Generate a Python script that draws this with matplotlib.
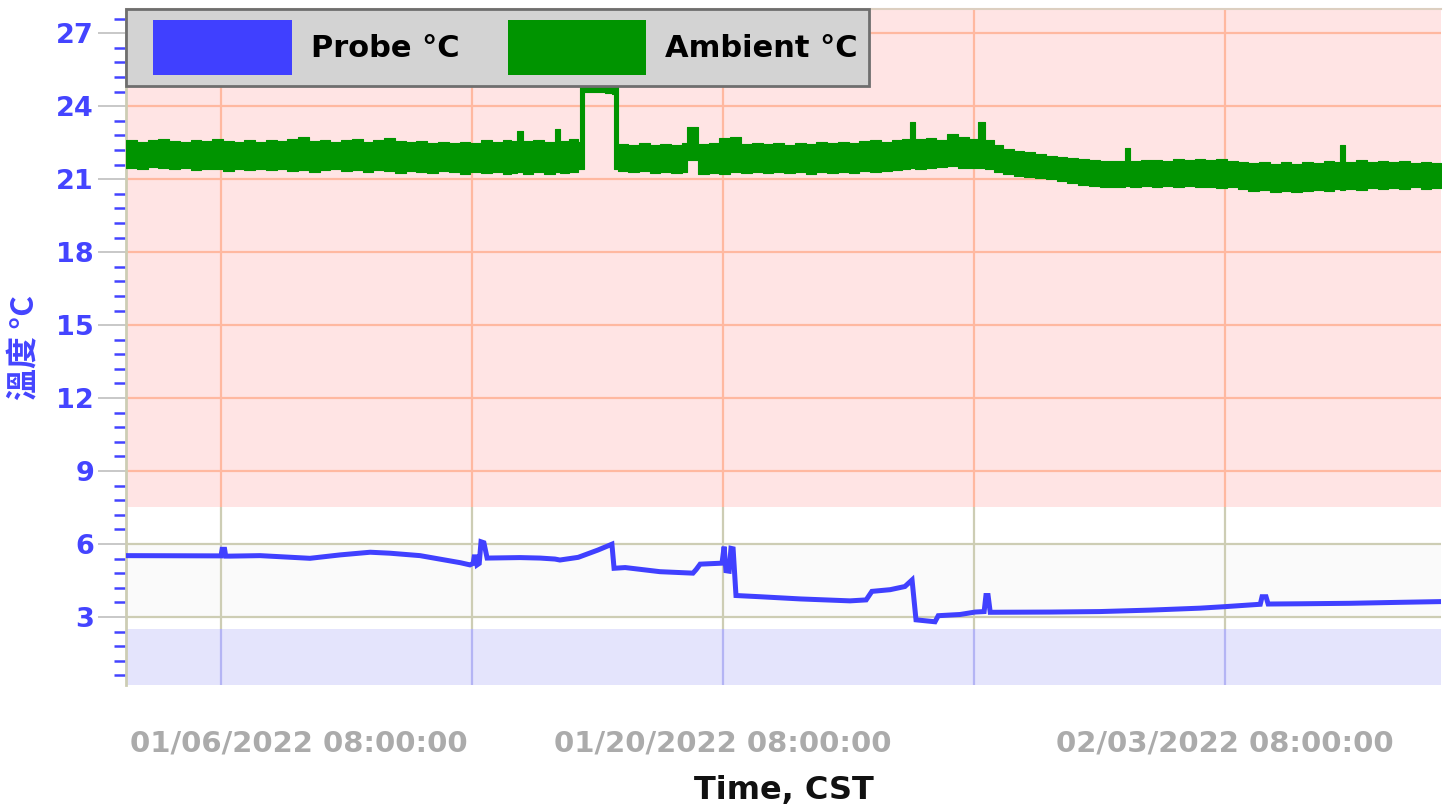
import matplotlib
matplotlib.use("Agg")
import matplotlib.pyplot as plt
from matplotlib.ticker import MultipleLocator, FixedLocator
from matplotlib.patches import Patch, Rectangle
from matplotlib.legend_handler import HandlerPatch
from matplotlib.transforms import ScaledTranslation

# ---------------- data ----------------
# x in days relative to 01/06/2022 08:00:00 CST
probe_days = [-2.65, 0.00, 0.03, 0.10, 0.13, 0.25, 1.09, 2.48, 3.32, 4.16, 4.71, 5.55,
              6.67, 6.94, 7.03, 7.06, 7.11, 7.14, 7.20, 7.25, 7.33, 7.42, 8.34, 8.90,
              9.31, 9.45, 9.96, 10.51, 10.90, 10.96, 11.27, 12.24, 13.16, 13.25, 13.36,
              13.97, 14.03, 14.08, 14.17, 14.22, 14.28, 14.36, 15.03, 16.15, 17.54,
              17.99, 18.15, 18.66, 19.07, 19.27, 19.38, 19.91, 20.00, 20.61, 21.03,
              21.28, 21.33, 21.39, 21.45, 23.12, 24.51, 25.91, 27.30, 27.97, 28.98,
              29.03, 29.14, 29.20, 30.09, 31.49, 32.88, 34.02]
probe_temp = [5.52, 5.51, 5.78, 5.78, 5.50, 5.50, 5.52, 5.41, 5.55, 5.66, 5.62, 5.52,
              5.23, 5.14, 5.20, 5.47, 5.47, 5.14, 5.20, 6.09, 6.05, 5.42, 5.44, 5.42,
              5.38, 5.34, 5.45, 5.75, 5.99, 5.00, 5.03, 4.86, 4.80, 4.95, 5.17,
              5.21, 5.89, 4.90, 4.88, 5.82, 5.80, 3.88, 3.83, 3.74, 3.66,
              3.70, 4.05, 4.12, 4.25, 4.52, 2.88, 2.80, 3.05, 3.10, 3.20,
              3.22, 3.88, 3.88, 3.19, 3.20, 3.22, 3.28, 3.36, 3.42, 3.52,
              3.83, 3.83, 3.53, 3.54, 3.56, 3.60, 3.63]

# ambient reading oscillates rapidly -> drawn as its low/high envelope
amb_days = [-2.65, -2.35, -2.05, -1.75, -1.45, -1.15, -0.85, -0.55, -0.25, 0.05,
            0.35, 0.65, 0.95, 1.25, 1.55, 1.85, 2.15, 2.45, 2.75, 3.05,
            3.35, 3.65, 3.95, 4.25, 4.55, 4.85, 5.15, 5.45, 5.75, 6.05,
            6.35, 6.65, 6.95, 7.25, 7.55, 7.85, 8.10, 8.25, 8.42, 8.70,
            9.00, 9.31, 9.45, 9.70, 9.96,
            10.01, 10.12, 10.40, 10.70, 10.90, 10.96,
            11.07, 11.35, 11.65, 11.95, 12.25, 12.55, 12.85, 13.00, 13.30, 13.60,
            13.90, 14.20, 14.50, 14.80, 15.10, 15.40, 15.70, 16.00, 16.30, 16.60,
            16.90, 17.20, 17.50, 17.80, 18.10, 18.40, 18.70, 19.00, 19.21, 19.35,
            19.65, 19.95, 20.25, 20.55, 20.85, 21.10, 21.30, 21.55, 21.80,
            22.10, 22.40, 22.70, 23.00, 23.30, 23.60, 23.90, 24.20, 24.50, 24.80,
            25.10, 25.21, 25.35, 25.65, 25.95, 26.25, 26.55, 26.85, 27.15, 27.45,
            27.75, 28.05, 28.35, 28.65, 28.95, 29.25, 29.55, 29.85, 30.15, 30.45,
            30.75, 31.05, 31.21, 31.35, 31.65, 31.95, 32.25, 32.55, 32.85, 33.15,
            33.45, 33.75, 34.02]
amb_low = [21.48, 21.42, 21.50, 21.45, 21.40, 21.47, 21.38, 21.44, 21.40, 21.35,
           21.42, 21.37, 21.44, 21.36, 21.40, 21.32, 21.38, 21.30, 21.36, 21.42,
           21.33, 21.38, 21.30, 21.36, 21.32, 21.27, 21.34, 21.30, 21.25, 21.32,
           21.28, 21.22, 21.30, 21.24, 21.28, 21.20, 21.26, 21.30, 21.22, 21.28,
           21.20, 21.30, 21.24, 21.30, 21.40,
           21.40, 24.60, 24.58, 24.55, 24.52, 21.40,
           21.35, 21.28, 21.32, 21.25, 21.30, 21.24, 21.30, 21.80, 21.22, 21.26,
           21.22, 21.28, 21.24, 21.30, 21.25, 21.30, 21.24, 21.28, 21.22, 21.28,
           21.25, 21.30, 21.26, 21.32, 21.28, 21.34, 21.38, 21.42, 21.48, 21.40,
           21.46, 21.50, 21.55, 21.48, 21.45, 21.46, 21.40, 21.30, 21.20,
           21.15, 21.10, 21.05, 21.00, 20.92, 20.86, 20.78, 20.72, 20.70, 20.68,
           20.70, 20.72, 20.70, 20.74, 20.70, 20.72, 20.68, 20.72, 20.66, 20.70,
           20.64, 20.66, 20.58, 20.52, 20.55, 20.48, 20.50, 20.46, 20.52, 20.56,
           20.50, 20.58, 20.55, 20.60, 20.54, 20.62, 20.58, 20.64, 20.60, 20.66,
           20.60, 20.64, 20.65]
amb_high = [22.62, 22.55, 22.60, 22.66, 22.58, 22.55, 22.62, 22.57, 22.64, 22.58,
            22.52, 22.60, 22.55, 22.62, 22.57, 22.65, 22.72, 22.58, 22.63, 22.55,
            22.60, 22.66, 22.54, 22.60, 22.68, 22.56, 22.52, 22.58, 22.50, 22.55,
            22.47, 22.52, 22.48, 22.60, 22.55, 22.62, 22.58, 23.00, 22.56, 22.62,
            22.55, 23.05, 22.58, 22.64, 22.55,
            24.90, 24.90, 24.85, 24.80, 24.78, 24.78,
            22.45, 22.40, 22.48, 22.42, 22.46, 22.40, 22.50, 23.15, 22.44, 22.48,
            22.70, 22.72, 22.46, 22.50, 22.44, 22.48, 22.42, 22.50, 22.45, 22.52,
            22.48, 22.55, 22.50, 22.58, 22.62, 22.55, 22.60, 22.66, 23.35, 22.65,
            22.70, 22.62, 22.85, 22.72, 22.65, 23.35, 22.60, 22.40, 22.25,
            22.18, 22.10, 22.02, 21.96, 21.90, 21.86, 21.82, 21.78, 21.76, 21.74,
            21.76, 22.30, 21.75, 21.78, 21.80, 21.76, 21.82, 21.78, 21.85, 21.80,
            21.82, 21.76, 21.70, 21.66, 21.72, 21.62, 21.70, 21.64, 21.72, 21.66,
            21.74, 21.70, 22.40, 21.70, 21.78, 21.72, 21.76, 21.70, 21.74, 21.68,
            21.72, 21.66, 21.68]

grid_days = [0, 7, 14, 21, 28]
label_days = [0, 14, 28]
label_text = ["01/06/2022 08:00:00", "01/20/2022 08:00:00", "02/03/2022 08:00:00"]
y_major = [3, 6, 9, 12, 15, 18, 21, 24, 27]
series_names = ["Probe °C", "Ambient °C"]
series_colors = ["#4040FF", "#009400"]

# alarm bands
high_limit = 7.5
low_limit = 2.5
ok_low, ok_high = 3.0, 6.0

# ---------------- figure ----------------
fig = plt.figure(figsize=(14.48, 8.07), dpi=100)
ax = fig.add_axes([126 / 1448, 1 - 685 / 807, (1441 - 126) / 1448, (685 - 9) / 807])
ymin, ymax = 0.2, 28.0
xmin, xmax = -2.65, 34.02
ax.set_xlim(xmin, xmax)
ax.set_ylim(ymin, ymax)

PINK = "#FFE4E4"
GRAYBAND = "#FAFAFA"
BLUEBAND = "#E4E4FC"
ax.axhspan(high_limit, ymax, color=PINK, lw=0, zorder=0)
ax.axhspan(ok_low, ok_high, color=GRAYBAND, lw=0, zorder=0)
ax.axhspan(ymin, low_limit, color=BLUEBAND, lw=0, zorder=0)

# grid lines coloured by band
SALMON = "#FFB8A0"
OLIVE = "#CDCDB4"
LBLUE = "#B4B4F4"
ax.vlines(grid_days, high_limit, ymax, colors=SALMON, lw=1.6, zorder=1)
ax.vlines(grid_days, low_limit, high_limit, colors=OLIVE, lw=1.6, zorder=1)
ax.vlines(grid_days, ymin, low_limit, colors=LBLUE, lw=1.6, zorder=1)
for v in y_major:
    ax.axhline(v, color=SALMON if v > high_limit else OLIVE, lw=1.6, zorder=1)

# data
ax.fill_between(amb_days, amb_low, amb_high, step="post", color=series_colors[1], lw=0.8,
                edgecolor=series_colors[1], zorder=3)
ax.plot(probe_days, probe_temp, color=series_colors[0], lw=3.6, solid_joinstyle="miter",
        zorder=4)

# axes styling
for s in ["right", "bottom"]:
    ax.spines[s].set_visible(False)
ax.spines["top"].set_color("#DCCFC0")
ax.spines["top"].set_linewidth(1.5)
ax.spines["left"].set_color("#CDCDB4")
ax.spines["left"].set_linewidth(2)

ax.yaxis.set_major_locator(FixedLocator(y_major))
ax.yaxis.set_minor_locator(MultipleLocator(0.6))
ax.tick_params(axis="y", which="major", length=20, width=1.3, color="#C4C4C4",
               labelcolor="#4444FF", labelsize=19.5, pad=3)
ax.tick_params(axis="y", which="minor", length=9, width=1.8, color="#4444FF")
for lab in ax.get_yticklabels():
    lab.set_fontweight("bold")

ax.set_xticks(label_days)
ax.set_xticklabels(label_text)
ax.tick_params(axis="x", length=0, pad=32, labelsize=21, labelcolor="#ABABAB")
for i, lab in enumerate(ax.get_xticklabels()):
    lab.set_fontweight("bold")
    if i == 0:
        lab.set_transform(lab.get_transform() + ScaledTranslation(0.78, 0, fig.dpi_scale_trans))

ax.set_xlabel("Time, CST", fontsize=23, fontweight="bold", color="#111111")
ax.xaxis.set_label_coords(0.5, (685 - 790) / 676)
ax.xaxis.label.set_va("center")

ax.set_ylabel("溫度 °C", fontsize=23, fontweight="bold", color="#4444FF",
              family=["Noto Sans CJK TC", "DejaVu Sans"])
ax.yaxis.set_label_coords((25 - 126) / 1315, 0.5)
ax.yaxis.label.set_va("center")


# legend: swatches inset inside their handle boxes
def inset_patch(legend, orig_handle, xdescent, ydescent, width, height, fontsize):
    off = 11.5  # points
    return Rectangle((-xdescent + off, -ydescent), width - off, height)


handles = [Patch(facecolor=c, edgecolor="none", label=n)
           for n, c in zip(series_names, series_colors)]
leg = ax.legend(handles=handles, loc="upper left", bbox_to_anchor=(0, 1), borderaxespad=0,
                ncol=2, fancybox=False, framealpha=1, facecolor="#D3D3D3",
                edgecolor="#6E6E6E", prop={"size": 22, "weight": "bold"},
                handlelength=5.07, handleheight=2.39, handletextpad=0.62,
                columnspacing=1.05, borderpad=0.36,
                handler_map={Patch: HandlerPatch(patch_func=inset_patch)})
leg.get_frame().set_linewidth(2)
leg.set_zorder(10)

fig.savefig("out.png", dpi=100)
